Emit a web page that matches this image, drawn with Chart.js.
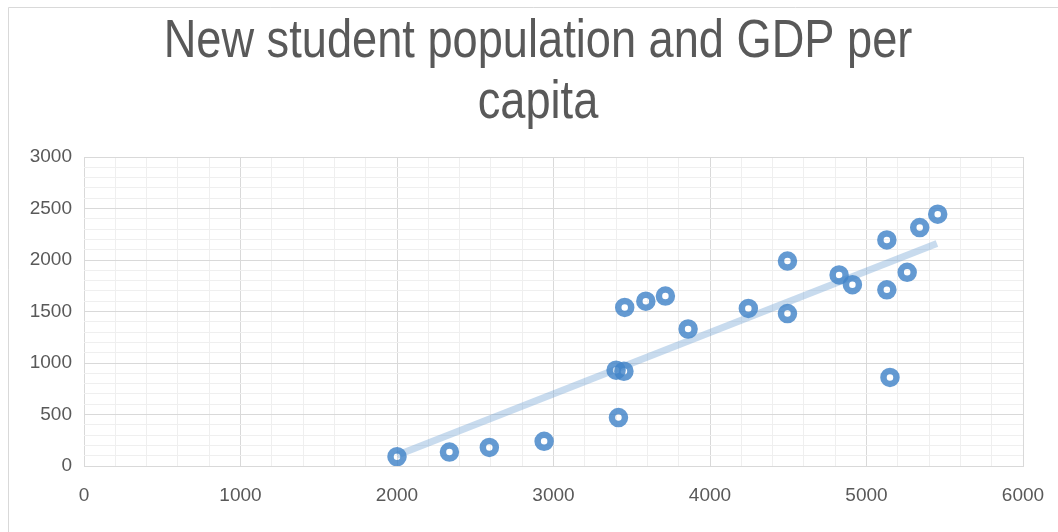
<!DOCTYPE html>
<html>
<head>
<meta charset="utf-8">
<script src="https://cdn.jsdelivr.net/npm/chart.js@4.4.1/dist/chart.umd.min.js"></script>
<style>
    html, body { margin: 0; padding: 0; background: #fff; }
    #wrap { width: 1058px; height: 532px; }
</style>
</head>
<body>
<div id="wrap"><canvas id="scatterChart"></canvas></div>
<script>
// GDP per capita (x) vs new student population (y)
const gdpPerCapita = [2000, 2335, 2590, 2940, 3415, 3400, 3450, 3455, 3590, 3715, 3860, 4245, 4495, 4495, 4825, 4910, 5130, 5130, 5150, 5260, 5340, 5455];
const newStudents  = [90, 135, 180, 240, 470, 930, 920, 1540, 1600, 1650, 1330, 1530, 1480, 1990, 1855, 1760, 2195, 1710, 860, 1880, 2315, 2445];

// linear trendline end points
const trendX = [2000, 5450];
const trendY = [105, 2160];

const titleLines = ['New student population and GDP per', 'capita'];
const textColor = '#595959';
const fontFamily = '"Liberation Sans", Arial, sans-serif';

document.addEventListener('DOMContentLoaded', () => {
    const points = gdpPerCapita.map((x, i) => ({ x: x, y: newStudents[i] }));
    const trend = trendX.map((x, i) => ({ x: x, y: trendY[i] }));

    // Background, outer border and title (title squeezed to the narrow look of the original)
    const frame = {
        id: 'frame',
        beforeDraw(chart) {
            const ctx = chart.ctx;
            ctx.save();
            ctx.fillStyle = '#fff';
            ctx.fillRect(0, 0, chart.width, chart.height);
            ctx.strokeStyle = '#d9d9d9';
            ctx.lineWidth = 1;
            ctx.beginPath();
            ctx.moveTo(8.5, chart.height);
            ctx.lineTo(8.5, 7.5);
            ctx.lineTo(chart.width, 7.5);
            ctx.stroke();
            ctx.restore();
        },
        afterDraw(chart) {
            const ctx = chart.ctx;
            ctx.save();
            ctx.fillStyle = textColor;
            ctx.font = '54px ' + fontFamily;
            ctx.textAlign = 'center';
            ctx.textBaseline = 'alphabetic';
            ctx.translate(538, 0);
            ctx.scale(0.837, 1);
            ctx.fillText(titleLines[0], 0, 57);
            ctx.fillText(titleLines[1], 0, 118);
            ctx.restore();
        }
    };

    const ctx = document.getElementById('scatterChart').getContext('2d');
    new Chart(ctx, {
        type: 'scatter',
        data: {
            datasets: [{
                label: 'New students',
                data: points,
                pointRadius: 6.5,
                pointHoverRadius: 6.5,
                borderWidth: 6.5,
                borderColor: 'rgba(66, 132, 200, 0.82)',
                backgroundColor: 'rgba(0, 0, 0, 0)'
            }, {
                label: 'Trend',
                type: 'line',
                data: trend,
                showLine: true,
                pointRadius: 0,
                borderWidth: 7,
                borderColor: 'rgba(110, 160, 210, 0.38)',
                fill: false
            }]
        },
        options: {
            responsive: true,
            maintainAspectRatio: false,
            animation: false,
            layout: {
                padding: { top: 157, right: 35, left: 0, bottom: 0 }
            },
            plugins: {
                legend: { display: false },
                title: { display: false },
                tooltip: { enabled: false }
            },
            scales: {
                x: {
                    type: 'linear',
                    min: 0,
                    max: 6000,
                    ticks: {
                        stepSize: 200,
                        autoSkip: false,
                        maxRotation: 0,
                        padding: 18,
                        color: textColor,
                        font: { family: fontFamily, size: 19 },
                        callback: v => (v % 1000 === 0 ? v : '')
                    },
                    grid: {
                        drawTicks: false,
                        color: c => (c.tick.value % 1000 === 0 ? '#d9d9d9' : '#efefef')
                    },
                    border: { color: '#d9d9d9' },
                    afterFit: scale => {
                        scale.height = 66;
                        scale.paddingLeft = 0;
                        scale.paddingRight = 0;
                    }
                },
                y: {
                    min: 0,
                    max: 3000,
                    ticks: {
                        stepSize: 100,
                        autoSkip: false,
                        padding: 12,
                        color: textColor,
                        font: { family: fontFamily, size: 19 },
                        callback: v => (v % 500 === 0 ? v : '')
                    },
                    grid: {
                        drawTicks: false,
                        color: c => (c.tick.value % 500 === 0 ? '#d9d9d9' : '#efefef')
                    },
                    border: { display: false },
                    afterFit: scale => {
                        scale.width = 84;
                        scale.paddingTop = 0;
                        scale.paddingBottom = 0;
                    }
                }
            }
        },
        plugins: [frame]
    });
});
</script>
</body>
</html>
